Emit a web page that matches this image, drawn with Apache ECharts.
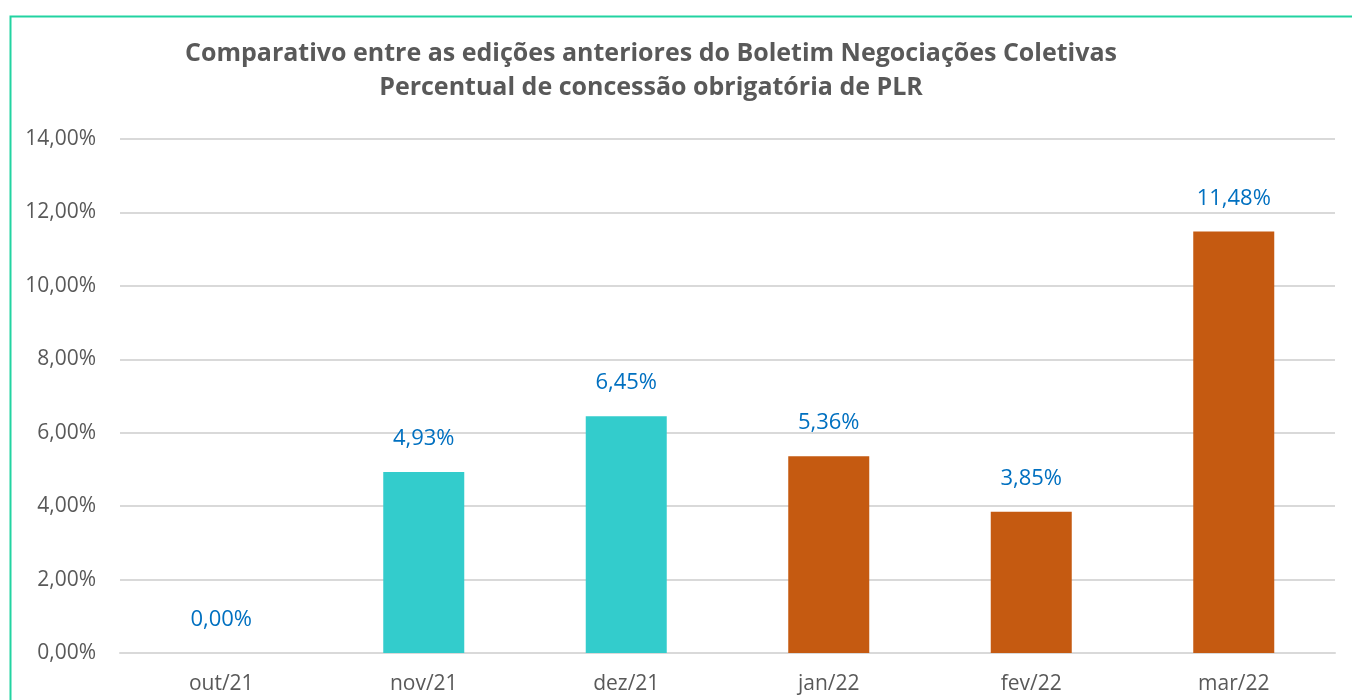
<!DOCTYPE html>
<html>
<head>
<meta charset="utf-8">
<script src="https://cdn.jsdelivr.net/npm/echarts@6/dist/echarts.min.js"></script>
<style>
  html, body { margin: 0; padding: 0; background: #fff; }
</style>
</head>
<body>
<div id="main" style="width: 1352px;height:700px;"></div>
<script>
  // chart data
  var meses = ['out/21', 'nov/21', 'dez/21', 'jan/22', 'fev/22', 'mar/22'];
  var percentuais = [0.00, 4.93, 6.45, 5.36, 3.85, 11.48];
  var coresBarras = ['#33CCCC', '#33CCCC', '#33CCCC', '#C55A11', '#C55A11', '#C55A11'];
  var titulo = 'Comparativo entre as edições anteriores do Boletim Negociações Coletivas\nPercentual de concessão obrigatória de PLR';

  function fmt(v) {
    return v.toFixed(2).replace('.', ',') + '%';
  }

  var myChart = echarts.init(document.getElementById('main'));
  var option = {
    animation: false,
    textStyle: { fontFamily: '"Open Sans", "Noto Sans", sans-serif' },
    title: {
      text: titulo,
      left: 646,
      textAlign: 'center',
      top: 32,
      textStyle: {
        color: '#595959',
        fontSize: 25,
        fontWeight: 'bold',
        lineHeight: 34
      }
    },
    graphic: [{
      type: 'rect',
      left: 8,
      top: 14,
      shape: { width: 1400, height: 800 },
      style: { fill: 'none', stroke: '#22D3A1', lineWidth: 2 },
      silent: true
    }],
    grid: {
      left: 120,
      right: 17,
      top: 139,
      bottom: 47
    },
    xAxis: {
      type: 'category',
      data: meses,
      axisLine: { show: true, lineStyle: { color: '#D9D9D9', width: 2 } },
      axisTick: { show: false },
      axisLabel: { color: '#595959', fontSize: 21, margin: 21 }
    },
    yAxis: {
      type: 'value',
      min: 0,
      max: 14,
      interval: 2,
      axisLine: { show: false },
      axisTick: { show: false },
      splitLine: { lineStyle: { color: '#D9D9D9', width: 2 } },
      axisLabel: {
        color: '#595959',
        fontSize: 21,
        margin: 24,
        formatter: function (v) { return fmt(v); }
      }
    },
    series: [{
      type: 'bar',
      name: 'PLR',
      barWidth: '40%',
      data: percentuais.map(function (v, i) {
        return { value: v, itemStyle: { color: coresBarras[i] } };
      }),
      label: {
        show: true,
        position: 'top',
        distance: 22,
        color: '#0070C0',
        fontSize: 22,
        formatter: function (p) { return fmt(p.value); }
      }
    }]
  };
  myChart.setOption(option);
</script>
</body>
</html>
